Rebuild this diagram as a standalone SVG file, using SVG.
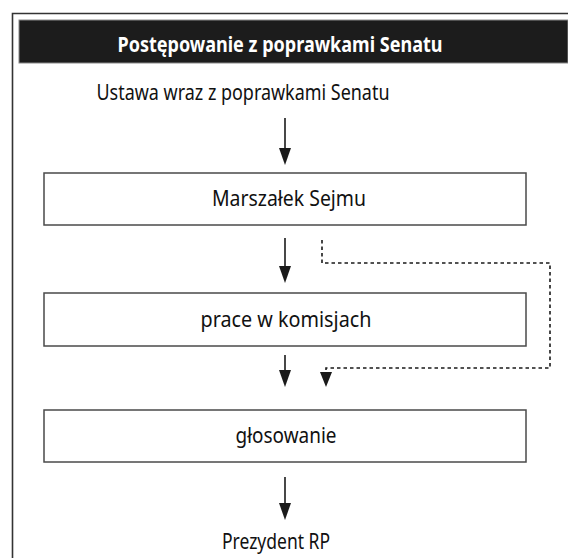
<svg xmlns="http://www.w3.org/2000/svg" width="568" height="558" viewBox="0 0 568 558">
<style>
.t{font-family:"Noto Sans","Open Sans",sans-serif;font-size:21px;fill:#111111;text-anchor:middle}
.h{font-family:"Noto Sans","Open Sans",sans-serif;font-size:21px;font-weight:bold;fill:#ffffff;text-anchor:middle}
.box{fill:#ffffff;stroke:#4a4a4a;stroke-width:1.5}
.c{fill:none;stroke:#1a1a1a;stroke-width:1.6}
.d{fill:none;stroke:#1a1a1a;stroke-width:1.6;stroke-dasharray:3.5 3}
</style>
<rect x="0" y="0" width="568" height="558" fill="#ffffff"/>
<path d="M12.5,558 V13.5 H568" fill="none" stroke="#333" stroke-width="1.6"/>
<g id="header">
<rect x="19" y="20" width="549" height="43" fill="#1c1c1c" stroke="#888" stroke-width="1"/>
<text class="h" x="280" y="52" textLength="325" lengthAdjust="spacingAndGlyphs">Postępowanie z poprawkami Senatu</text>
</g>
<g id="ustawa">
<text class="t" x="243" y="100" textLength="293" lengthAdjust="spacingAndGlyphs">Ustawa wraz z poprawkami Senatu</text>
</g>
<g id="marszalek">
<rect class="box" x="44" y="173" width="482" height="52"/>
<text class="t" x="289" y="206" textLength="154" lengthAdjust="spacingAndGlyphs">Marszałek Sejmu</text>
</g>
<g id="komisje">
<rect class="box" x="44" y="293" width="482" height="53"/>
<text class="t" x="286" y="327" textLength="171" lengthAdjust="spacingAndGlyphs">prace w komisjach</text>
</g>
<g id="glosowanie">
<rect class="box" x="44" y="410" width="482" height="52"/>
<text class="t" x="286" y="443" textLength="101" lengthAdjust="spacingAndGlyphs">głosowanie</text>
</g>
<g id="prezydent">
<text class="t" x="276" y="549" textLength="108" lengthAdjust="spacingAndGlyphs">Prezydent RP</text>
</g>
<g id="connectors">
<g fill="#1a1a1a">
<path class="c" d="M285,118 V150"/>
<path d="M279,148 L291,148 L285,165 Z"/>
<path class="c" d="M285,238 V268"/>
<path d="M279,266 L291,266 L285,283 Z"/>
<path class="c" d="M285,355 V372"/>
<path d="M279,370 L291,370 L285,387 Z"/>
<path class="c" d="M285,477 V505"/>
<path d="M279,503 L291,503 L285,520 Z"/>
<path class="d" d="M322,240 V263 H550 V368 H326 V373"/>
<path d="M320,372 L332,372 L326,387 Z"/>
</g>
</g>
</svg>
